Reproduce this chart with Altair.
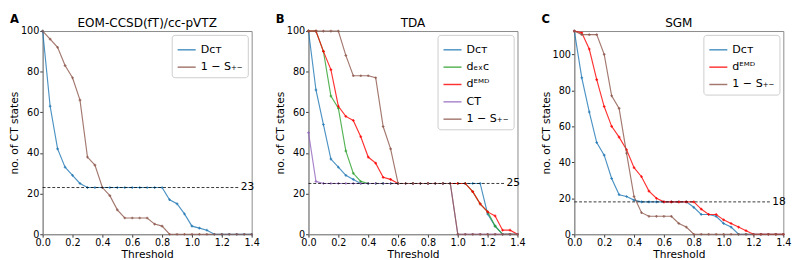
import altair as alt
import pandas as pd

# ---------------- data ----------------
thresholds = [0.0, 0.05, 0.1, 0.15, 0.2, 0.25, 0.3, 0.35, 0.4, 0.45, 0.5, 0.55, 0.6, 0.65,
              0.7, 0.75, 0.8, 0.85, 0.9, 0.95, 1.0, 1.05, 1.1, 1.15, 1.2, 1.25, 1.3, 1.35, 1.4]

# Panel A  (EOM-CCSD(fT)/cc-pVTZ)
A_DCT = [100, 63, 42, 33, 29, 25, 23, 23, 23, 23, 23, 23, 23, 23, 23, 23, 23,
         17, 15, 10, 4, 3, 2, 0, 0, 0, 0, 0, 0]
A_S = [100, 96, 92, 83, 77, 66, 38, 34, 23, 19, 12, 8, 8, 8, 8, 5, 4,
       0, 0, 0, 0, 0, 0, 0, 0, 0, 0, 0, 0]

# Panel B  (TDA)
B_DCT = [100, 71, 54, 37, 33, 29, 27, 25, 25, 25, 25, 25, 25, 25, 25, 25, 25,
         25, 25, 25, 25, 25, 25, 25, 10, 4, 0, 0, 0]
B_DEXC = [100, 100, 90, 68, 62, 41, 30, 26, 25, 25, 25, 25, 25, 25, 25, 25, 25,
          25, 25, 25, 25, 25, 21, 15, 11, 4, 0, 0, 0]
B_DEMD = [100, 100, 90, 81, 63, 58, 56, 48, 38, 35, 28, 27, 25, 25, 25, 25, 25,
          25, 25, 25, 25, 25, 21, 15, 11, 9, 2, 2, 0]
B_CT = [50, 26, 25, 25, 25, 25, 25, 25, 25, 25, 25, 25, 25, 25, 25, 25, 25,
        25, 25, 25, 0, 0, 0, 0, 0, 0, 0, 0, 0]
B_S = [100, 100, 100, 100, 100, 88, 78, 78, 78, 77, 53, 42, 25, 25, 25, 25, 25,
       25, 25, 25, 0, 0, 0, 0, 0, 0, 0, 0, 0]

# Panel C  (SGM)
C_DCT = [113, 87, 68, 51, 44, 31, 22, 21, 19, 18, 18, 18, 18, 18, 18, 18, 15,
         11, 11, 10, 6, 4, 0, 0, 0, 0, 0, 0, 0]
C_DEMD = [113, 112, 103, 86, 71, 60, 54, 47, 37, 32, 24, 20, 18, 18, 18, 18, 18,
          14, 11, 11, 8, 6, 4, 2, 0, 0, 0, 0, 0]
C_S = [113, 111, 111, 111, 100, 77, 70, 45, 21, 12, 10, 10, 10, 10, 6, 4, 0,
       0, 0, 0, 0, 0, 0, 0, 0, 0, 0, 0, 0]

x_ticks = [0.0, 0.2, 0.4, 0.6, 0.8, 1.0, 1.2, 1.4]
y_ticks = [0, 20, 40, 60, 80, 100]

panel_titles = ["EOM-CCSD(fT)/cc-pVTZ", "TDA", "SGM"]
panel_letters = ["A", "B", "C"]
ref_values = [23, 25, 18]
y_max = [100, 100, 113]

LBL_DCT = "Dᴄᴛ"
LBL_DEXC = "dₑₓᴄ"
LBL_DEMD = "dᴱᴹᴰ"
LBL_CT = "CT"
LBL_S = "1 − S₊₋"

COL = {LBL_DCT: "#1f77b4", LBL_DEXC: "#2ca02c", LBL_DEMD: "#ff0000",
       LBL_CT: "#9467bd", LBL_S: "#8c564b"}

panels_series = [
    [(LBL_DCT, A_DCT), (LBL_S, A_S)],
    [(LBL_DCT, B_DCT), (LBL_DEXC, B_DEXC), (LBL_DEMD, B_DEMD), (LBL_CT, B_CT), (LBL_S, B_S)],
    [(LBL_DCT, C_DCT), (LBL_DEMD, C_DEMD), (LBL_S, C_S)],
]

FONT = "DejaVu Sans"
W, H = 217, 211


def make_panel(i):
    series = panels_series[i]
    names = [s[0] for s in series]
    rows = []
    for name, vals in series:
        for t, v in zip(thresholds, vals):
            rows.append({"threshold": t, "count": v, "series": name})
    df = pd.DataFrame(rows)

    xs = alt.Scale(domain=[0, 1.4], nice=False)
    ys = alt.Scale(domain=[0, y_max[i]], nice=False)
    xaxis = alt.Axis(values=x_ticks, format=".1f", title="Threshold",
                     labelFlush=False, labelOverlap=False)
    yaxis = alt.Axis(values=y_ticks, title="no. of CT states",
                     labelFlush=False, labelOverlap=False)
    cscale = alt.Scale(domain=names, range=[COL[n] for n in names])

    layers = []
    for name in names:
        layers.append(
            alt.Chart(df).transform_filter(alt.datum.series == name)
            .mark_line(strokeWidth=1.2, opacity=0.8,
                       point=alt.OverlayMarkDef(shape="cross", size=8, filled=True, opacity=0.8))
            .encode(
                x=alt.X("threshold:Q", scale=xs, axis=xaxis),
                y=alt.Y("count:Q", scale=ys, axis=yaxis),
                color=alt.Color("series:N", scale=cscale,
                                legend=alt.Legend(title=None, orient="top-right")),
            )
        )

    ref_df = pd.DataFrame({"x": [0.0], "x2": [1.32], "y": [ref_values[i]],
                           "label": [str(ref_values[i])]})
    rule = alt.Chart(ref_df).mark_rule(color="black", strokeDash=[3, 2], strokeWidth=0.8).encode(
        x=alt.X("x:Q", scale=xs, axis=xaxis), x2="x2:Q",
        y=alt.Y("y:Q", scale=ys, axis=yaxis))
    txt = alt.Chart(ref_df).mark_text(align="left", baseline="middle", fontSize=11, font=FONT,
                                      dx=1, color="black").encode(
        x=alt.X("x2:Q", scale=xs, axis=xaxis), y=alt.Y("y:Q", scale=ys, axis=yaxis),
        text="label:N")
    head_df = pd.DataFrame({"letter": [panel_letters[i]], "title": [panel_titles[i]]})
    letter = alt.Chart(head_df).mark_text(align="left", baseline="top", fontSize=12,
                                          fontWeight="bold", font=FONT, color="black").encode(
        x=alt.value(-34), y=alt.value(-17), text="letter:N")
    title = alt.Chart(head_df).mark_text(align="center", baseline="alphabetic", fontSize=12.5,
                                         font=FONT, color="black").encode(
        x=alt.value(W / 2), y=alt.value(-4), text="title:N")

    return alt.layer(*layers, rule, txt, letter, title).properties(width=W, height=H)


chart = alt.hconcat(make_panel(0), make_panel(1), make_panel(2), spacing=14).resolve_scale(
    color="independent", x="independent", y="independent"
).properties(
    padding={"left": 0, "top": 0, "right": 0, "bottom": 0}
).configure(
    font=FONT
).configure_view(
    stroke="#888", strokeWidth=1
).configure_axis(
    grid=False, domainColor="#888", tickColor="#333", tickSize=3,
    labelFontSize=10, titleFontSize=11, titleFontWeight="normal",
    labelColor="black", titleColor="black", labelPadding=1, titlePadding=1, labelFont=FONT,
    titleFont=FONT, labelOverlap=False
).configure_legend(
    strokeColor="#ccc", fillColor="white", padding=5, cornerRadius=3, offset=4,
    symbolType="stroke", symbolStrokeWidth=1.5, symbolSize=350, labelFontSize=11.5,
    labelFont=FONT, rowPadding=2, symbolOpacity=0.8
)

chart.save("out.html", embed_options={"renderer": "svg", "actions": False})
